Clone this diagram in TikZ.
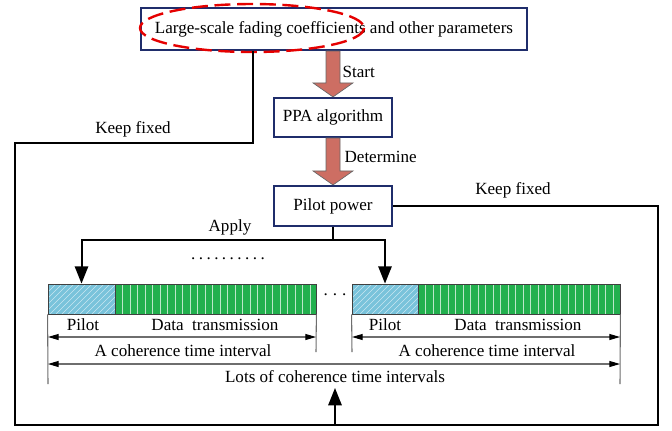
\documentclass[tikz,border=0pt]{standalone}
\usepackage{fontspec}
\setmainfont{Liberation Serif}
\usetikzlibrary{calc,arrows.meta}
\definecolor{navy}{HTML}{1F2D6B}
\definecolor{salmon}{HTML}{CD6E63}
\definecolor{pilotblue}{HTML}{79C3DB}
\definecolor{datagreen}{HTML}{22B04E}
\definecolor{dimgray}{HTML}{6E6E6E}
\newcommand\fatarr[2]{\draw[fat] ($(#1)+(-7,0)$) -- ($(#2)+(-7,-14)$) -- ($(#2)+(-20,-14)$) -- (#2) -- ($(#2)+(20,-14)$) -- ($(#2)+(7,-14)$) -- ($(#1)+(7,0)$) -- cycle;}
\newcommand\dotrow[2]{.\foreach \n in {2,...,#1}{\hspace{#2}.}}
\begin{document}
\begin{tikzpicture}[x=0.75pt,y=-0.75pt,
  font=\fontsize{12.8}{14}\selectfont,
  box/.style={draw=navy, line width=1.6pt, fill=white, inner sep=0pt, align=center},
  fat/.style={fill=salmon, draw=black!60, line width=0.5pt},
  flow/.style={line width=1.5pt, black},
  arr/.style={flow, -{Triangle[length=13pt,width=10pt]}},
  dim/.style={dimgray, line width=0.8pt},
  dimarr/.style={dim, {Triangle[length=8pt,width=4.5pt,color=black]}-{Triangle[length=8pt,width=4.5pt,color=black]}},
  lbl/.style={inner sep=1pt},
  pilotcell/.style={draw=black!75, line width=0.6pt, fill=pilotblue, minimum height=22.5pt, inner sep=0pt,
    path picture={\foreach \k in {0,6,...,130}{\draw[white!60!pilotblue, line width=0.45pt] ($(path picture bounding box.south west)+(\k-40,0)$) -- ++(40,-40);}}},
  datacell/.style={draw=black!75, line width=0.6pt, fill=datagreen, minimum height=22.5pt, inner sep=0pt,
    path picture={\foreach \k in {7.5,15,...,202}{\draw[white!70!datagreen, line width=0.5pt] ($(path picture bounding box.south west)+(\k,0)$) -- ++(0,-40);}}}
]
\useasboundingbox (0,0) rectangle (672,430);

% boxes
\node[box, minimum width=289.5pt, minimum height=31.5pt] (top) at (334,29) {Large-scale fading coefficients and other parameters};
\node[box, minimum width=88.5pt, minimum height=29.25pt] (ppa) at (333,117.5) {PPA algorithm};
\node[box, minimum width=88.5pt, minimum height=30pt] (pp) at (333,206) {Pilot power};

% red dashed ellipse
\draw[red!90!black, line width=1.8pt, dash pattern=on 12pt off 5pt] (252,28) ellipse [x radius=112, y radius=24];

% fat arrows
\fatarr{ppa.north |- top.south}{ppa.north}
\fatarr{pp.north |- ppa.south}{pp.north}
\node[lbl, anchor=west] (start) at (341,72) {Start};
\node[lbl, anchor=west] (det) at (343,157) {Determine};

% frames
\node[pilotcell, minimum width=50.25pt] (p1) at (81.5,299) {};
\node[datacell, minimum width=150.75pt] (d1) at (215.5,299) {};
\node[pilotcell, minimum width=49.5pt] (p2) at (385,299) {};
\node[datacell, minimum width=151.5pt] (d2) at (519,299) {};

% apply arrows
\coordinate (j) at (333,240);
\draw[flow] (pp.south) -- (j);
\draw[arr] (j) -| (p1.north);
\draw[arr] (j) -| (p2.north);
\node[lbl] (apply) at (230,227) {Apply};
\node[lbl] (dots1) at (228,259) {\dotrow{10}{2.6pt}};
\node[lbl] (dots2) at (335,295) {\dotrow{3}{3.8pt}};

% keep fixed loops
\coordinate (kl) at (253,143);
\coordinate (bl) at (15,425);
\coordinate (br) at (658,425);
\coordinate (bm) at (335,425);
\coordinate (lotsarr) at (335,388);
\draw[flow] (top.south -| kl) -- (kl) -| (bl) -- (br) |- (pp.east);
\draw[arr] (bm) -- (lotsarr);
\node[lbl] (kf1) at (133,129) {Keep fixed};
\node[lbl] (kf2) at (513,190) {Keep fixed};

% dimension lines
\coordinate (t1a) at (48,384);
\coordinate (t1b) at (316,352);
\coordinate (t2a) at (352,352);
\coordinate (t2b) at (620,384);
\draw[dim] (p1.south west) -- (t1a);
\draw[dim] (d1.south east) -- (t1b);
\draw[dim] (p2.south west) -- (t2a);
\draw[dim] (d2.south east) -- (t2b);
\draw[dimarr] (48,337) -- (316,337);
\draw[dimarr] (352,337) -- (620,337);
\draw[dimarr] (48,364) -- (620,364);

\node[lbl] (pl1) at (83,325) {Pilot};
\node[lbl] (dt1) at (215,325) {Data\ \ transmission};
\node[lbl] (pl2) at (385,325) {Pilot};
\node[lbl] (dt2) at (518,325) {Data\ \ transmission};
\node[lbl] (ct1) at (183,351) {A coherence time interval};
\node[lbl] (ct2) at (487,351) {A coherence time interval};
\node[lbl] (lots) at (335,377) {Lots of coherence time intervals};
\end{tikzpicture}
\end{document}
